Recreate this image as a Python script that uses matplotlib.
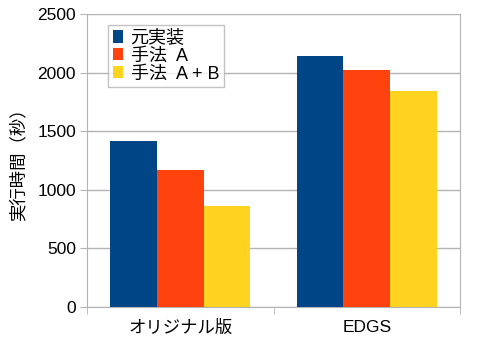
import matplotlib
matplotlib.use("Agg")
import matplotlib.pyplot as plt
import numpy as np

plt.rcParams['font.family'] = ['Liberation Sans', 'Noto Sans CJK JP', 'DejaVu Sans']

categories = ["オリジナル版", "EDGS"]
series_names = ["元実装", "手法  A", "手法  A + B"]
series_values = [
    [1420, 2140],
    [1170, 2025],
    [865, 1840],
]
colors = ["#004586", "#ff420e", "#ffd320"]
yticks = [0, 500, 1000, 1500, 2000, 2500]

fs = 12.5
fig = plt.figure(figsize=(4.84, 3.40), dpi=100)
ax = fig.add_axes([87/484, 1-307/340, (460-87)/484, (307-14)/340])

x = np.arange(len(categories))
w = 0.25
for i, name in enumerate(series_names):
    ax.bar(x + (i-1)*w, series_values[i], width=w, color=colors[i], label=name, zorder=3)

ax.set_xlim(-0.5, 1.5)
ax.set_ylim(0, 2500)
ax.set_yticks(yticks)
ax.set_yticklabels([str(v) for v in yticks], fontsize=fs)
ax.set_xticks(x)
ax.set_xticklabels(categories, fontsize=fs)
ax.tick_params(axis='x', length=0, pad=9.5)
ax.set_xticks([-0.5, 0.5, 1.5], minor=True)
ax.tick_params(axis='x', which='minor', length=5, color='#b3b3b3')
ax.tick_params(axis='y', length=5, color='#b3b3b3', pad=3)
ax.grid(axis='y', color='#b3b3b3', linewidth=1, zorder=0)
for s in ['left', 'right', 'bottom']:
    ax.spines[s].set_color('#b3b3b3')
ax.spines['top'].set_visible(False)
ax.set_ylabel("実行時間（秒）", fontsize=fs, labelpad=8)

leg = ax.legend(loc='upper left', bbox_to_anchor=(21/373, 1-11/293), fontsize=13,
                frameon=True, fancybox=False, edgecolor='#b3b3b3', handlelength=0.6,
                handleheight=0.7, handletextpad=0.4, borderpad=0.25, labelspacing=0.05,
                borderaxespad=0)
leg.get_frame().set_linewidth(1)

fig.savefig("out.png", dpi=100)
